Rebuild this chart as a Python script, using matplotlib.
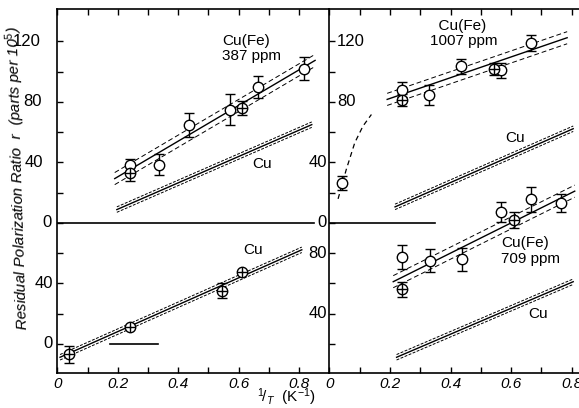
import matplotlib
matplotlib.use('Agg')
import matplotlib.pyplot as plt
import numpy as np

plt.rcParams['font.family'] = ['Liberation Sans', 'DejaVu Sans']
plt.rcParams['mathtext.fontset'] = 'custom'
plt.rcParams['mathtext.rm'] = 'Liberation Sans'
plt.rcParams['mathtext.it'] = 'Liberation Sans:italic'

# ---- values: x = 1/T (K^-1), r in parts per 10^5 ----
# left panel, upper section: Cu(Fe) 387 ppm
fe387_x = [0.24, 0.335, 0.435, 0.57, 0.665, 0.815]
fe387_r = [38, 38.5, 64.5, 75, 90, 102]
fe387_err = [4, 7, 8, 10, 7.5, 7.5]
fe387_cx = [0.24, 0.61]            # crossed circles
fe387_cr = [33, 76]
fe387_cerr = [5, 4.5]
fe387_fit_x = [0.19, 0.853]
fe387_fit_r = [29.3, 107.5]
cu_387_x = [0.197, 0.842]
cu_387_r = [8.8, 65]

# left panel, lower section: Cu (its scale sits 80 below)
cu_x = [0.04, 0.24, 0.545, 0.61]
cu_r = [-7, 11, 35, 47.5]
cu_err = [5.5, 0, 5, 0]
cu_fit_x = [0.009, 0.809]
cu_fit_r = [-8.9, 62.2]

# right panel, upper section: Cu(Fe) 1007 ppm
fe1007_x = [0.043, 0.24, 0.33, 0.435, 0.568, 0.667]
fe1007_r = [26.5, 88, 84.5, 103.5, 101, 119]
fe1007_err = [4.5, 5, 6.5, 5, 5, 5]
fe1007_cx = [0.24, 0.543]
fe1007_cr = [81, 102]
fe1007_cerr = [4, 4]
fe1007_fit_x = [0.191, 0.785]
fe1007_fit_r = [81.7, 122.5]
fe1007_curve_x = [0.029, 0.056, 0.084, 0.111, 0.139]
fe1007_curve_r = [15.9, 35.3, 53, 64, 71.7]
cu_1007_x = [0.217, 0.805]
cu_1007_r = [10.6, 62.3]

# right panel, lower section: Cu(Fe) 709 ppm (its scale sits 100 below)
fe709_x = [0.24, 0.332, 0.437, 0.567, 0.667, 0.764]
fe709_r = [77.5, 75, 76, 107, 115.5, 113]
fe709_err = [7.8, 7.8, 7.7, 6.7, 8.4, 6]
fe709_cx = [0.24, 0.61]
fe709_cr = [56, 102]
fe709_cerr = [4.7, 5.5]
fe709_fit_x = [0.211, 0.81]
fe709_fit_r = [61.1, 121]
cu_709_x = [0.222, 0.805]
cu_709_r = [11.1, 61.1]

lower_left_shift = -80
lower_right_shift = -100


def fit_band(ax, xs, rs, shift, gap, dash):
    rs = np.asarray(rs) + shift
    ax.plot(xs, rs, color='k', lw=1.0)
    for s in (-1, 1):
        ax.plot(xs, rs + s * gap, color='k', lw=0.7, ls=(0, dash))


def data_points(ax, xs, rs, errs, shift, crossed=False):
    rs = np.asarray(rs) + shift
    ax.errorbar(xs, rs, yerr=errs, fmt='o', ms=7.5, mfc='white', mec='k', mew=1,
                ecolor='k', elinewidth=1, capsize=3.5, capthick=1, zorder=3)
    if crossed:
        ax.plot(xs, rs, '+', ms=7.5, mew=1, color='k', zorder=4)


W, H = 579, 408
fig = plt.figure(figsize=(W / 100, H / 100), dpi=100)
ax1 = fig.add_axes([57.3 / W, 1 - 373.3 / H, 272 / W, 364.3 / H])
ax2 = fig.add_axes([329.3 / W, 1 - 373.3 / H, (W - 329.3) / W, 364.3 / H])

ylo, yhi = -99.5, 141.5
for ax, xmax in ((ax1, 0.9), (ax2, (W - 329.3) / 303)):
    ax.set_xlim(0, xmax)
    ax.set_ylim(ylo, yhi)
    ax.set_xticks(np.arange(0, 0.85, 0.1))
    ax.set_xticklabels(['0', '', '0.2', '', '0.4', '', '0.6', '', '0.8'],
                       fontsize=11, style='italic')
    ax.set_yticks(np.arange(-80, 140, 20))
    ax.set_yticklabels([])
    ax.tick_params(direction='in', length=4, width=1, top=True, bottom=True,
                   left=True, right=False, pad=3)
    for sp in ax.spines.values():
        sp.set_linewidth(1.2)
ax1.spines['right'].set_visible(False)
ax2.spines['right'].set_visible(False)

# left panel
ax1.plot([0, 0.85], [0, 0], color='k', lw=1.2)
ax1.plot([0.173, 0.332], [lower_left_shift, lower_left_shift], color='k', lw=1.2)
fit_band(ax1, fe387_fit_x, fe387_fit_r, 0, 4, (5, 3))
fit_band(ax1, cu_387_x, cu_387_r, 0, 1.8, (3, 1.5))
fit_band(ax1, cu_fit_x, cu_fit_r, lower_left_shift, 1.8, (3, 1.5))
data_points(ax1, fe387_x, fe387_r, fe387_err, 0)
data_points(ax1, fe387_cx, fe387_cr, fe387_cerr, 0, crossed=True)
data_points(ax1, cu_x, cu_r, cu_err, lower_left_shift, crossed=True)
ax1.text(0.545, 125, 'Cu(Fe)\n387 ppm', fontsize=11, va='top', ha='left', linespacing=1.1)
ax1.text(0.645, 39, 'Cu', fontsize=11, va='center')
ax1.text(0.615, -18, 'Cu', fontsize=11, va='center')

# right panel
ax2.plot([0, 0.35], [0, 0], color='k', lw=1.2)
fit_band(ax2, fe1007_fit_x, fe1007_fit_r, 0, 4, (5, 3))
fit_band(ax2, cu_1007_x, cu_1007_r, 0, 1.8, (3, 1.5))
fit_band(ax2, fe709_fit_x, fe709_fit_r, lower_right_shift, 4, (5, 3))
fit_band(ax2, cu_709_x, cu_709_r, lower_right_shift, 1.8, (3, 1.5))
ax2.plot(fe1007_curve_x, fe1007_curve_r, color='k', lw=0.9, ls=(0, (4, 3)))
data_points(ax2, fe1007_x, fe1007_r, fe1007_err, 0)
data_points(ax2, fe1007_cx, fe1007_cr, fe1007_cerr, 0, crossed=True)
data_points(ax2, fe709_x, fe709_r, fe709_err, lower_right_shift)
data_points(ax2, fe709_cx, fe709_cr, fe709_cerr, lower_right_shift, crossed=True)
ax2.text(0.332, 135, '  Cu(Fe)\n1007 ppm', fontsize=11, va='top', ha='left', linespacing=1.1)
ax2.text(0.58, 56, 'Cu', fontsize=11, va='center')
ax2.text(0.568, -9, 'Cu(Fe)\n709 ppm', fontsize=11, va='top', ha='left', linespacing=1.1)
ax2.text(0.655, -60, 'Cu', fontsize=11, va='center')

# y scale numbers, placed by hand as in the original
left_labels = [(120, '120', 41), (80, '80', 42), (40, '40', 43), (0, '0', 52),
               (-40, '40', 53), (-80, '0', 53)]
for yv, s, px in left_labels:
    ax1.text((px - 57.3) / 302, yv, s, fontsize=12, ha='right', va='center')
for yv, s in ((120, '120'), (80, '80')):
    ax2.text(0.025, yv, s, fontsize=12, ha='left', va='center')
for yv, s in ((40, '40'), (0, '0'), (-20, '80'), (-60, '40')):
    ax2.text(-0.008, yv, s, fontsize=12, ha='right', va='center')

fig.text(18 / W, 1 - 178 / H, r'Residual Polarization Ratio  $r$  (parts per 10$^5$)',
         fontsize=11, style='italic', rotation=91.8, ha='center', va='center')
fig.text(286 / W, 1 - 397 / H, r'$^{1\!}/_{T}$  (K$^{-1}$)', fontsize=11,
         ha='center', va='center')

fig.savefig('out.png', dpi=100)
